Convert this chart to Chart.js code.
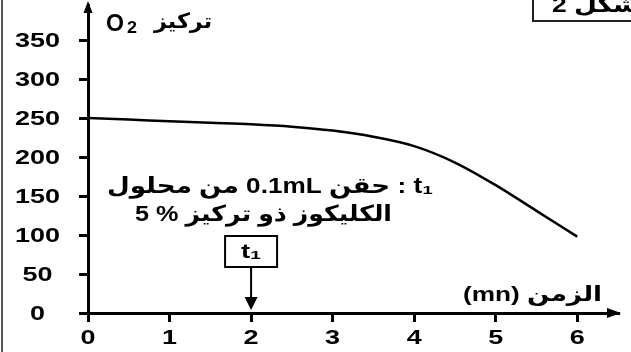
<!DOCTYPE html>
<html>
<head>
<meta charset="utf-8">
<script src="https://cdn.jsdelivr.net/npm/chart.js@4.4.1/dist/chart.umd.min.js"></script>
<style>
  html, body { margin: 0; padding: 0; background: #fff; }
  canvas { display: block; }
</style>
</head>
<body>
<canvas id="graph" width="631" height="352"></canvas>
<script>
// data
var timeMin = [0, 0.5, 1, 1.5, 2, 2.5, 3, 3.5, 4, 4.5, 5, 5.5, 6];
var o2Conc = [250, 248, 246, 244, 242, 239, 234, 226, 214, 193, 164, 131, 98];
var xTickLabels = [0, 1, 2, 3, 4, 5, 6];
var yTickLabels = [0, 50, 100, 150, 200, 250, 300, 350];
var injectTime = 2; // t1

var FONT = '"Liberation Sans", Arial, "DejaVu Sans", sans-serif';

// the original text is stretched horizontally, so draw with a x scale
function drawText(ctx, txt, x, y, size, opt) {
	opt = opt || {};
	ctx.save();
	ctx.font = 'bold ' + size + 'px ' + FONT;
	ctx.direction = opt.rtl ? 'rtl' : 'ltr';
	ctx.textAlign = 'left';
	ctx.textBaseline = 'middle';
	ctx.fillStyle = '#000';
	var w = ctx.measureText(txt).width;
	var sx = opt.width ? opt.width / w : (opt.sx || 1);
	var left = x;
	if (opt.align === 'center') left = x - w * sx / 2;
	ctx.translate(left, y);
	ctx.scale(sx, 1);
	ctx.fillText(txt, 0, 0);
	ctx.restore();
}

var decorPlugin = {
	id: 'decor',
	afterDraw: function (chart) {
		var ctx = chart.ctx;
		var xs = chart.scales.x, ys = chart.scales.y;
		var x0 = xs.getPixelForValue(0), y0 = ys.getPixelForValue(0);

		// tick labels
		xs.ticks.forEach(function (t) {
			drawText(ctx, String(t.value), xs.getPixelForValue(t.value), 338, 20, { sx: 1.35, align: 'center' });
		});
		ys.ticks.forEach(function (t) {
			drawText(ctx, String(t.value), 37.5, ys.getPixelForValue(t.value) + 1, 20, { sx: 1.35, align: 'center' });
		});

		// axis arrows
		ctx.save();
		ctx.fillStyle = '#000';
		ctx.beginPath();
		ctx.moveTo(x0, 1);
		ctx.lineTo(x0 - 4.5, 13);
		ctx.lineTo(x0 + 4.5, 13);
		ctx.closePath();
		ctx.fill();
		ctx.beginPath();
		ctx.moveTo(621, y0);
		ctx.lineTo(607, y0 - 5);
		ctx.lineTo(607, y0 + 5);
		ctx.closePath();
		ctx.fill();
		ctx.restore();

		// axis titles
		drawText(ctx, 'O', 106, 25, 23, { width: 18 });
		drawText(ctx, '2', 127, 28, 17, { width: 10 });
		drawText(ctx, 'تركيز', 154, 22, 21, { width: 58, rtl: true });
		drawText(ctx, '(mn) الزمن', 463, 295, 21, { width: 139 });

		// annotation text
		drawText(ctx, 't₁ : حقن 0.1mL من محلول', 107, 187, 22, { width: 326, rtl: true });
		drawText(ctx, 'الكليكوز ذو تركيز % 5', 135, 215, 22, { width: 257, rtl: true });

		// t1 box + arrow
		var tx = xs.getPixelForValue(injectTime);
		ctx.save();
		ctx.strokeStyle = '#000';
		ctx.lineWidth = 2;
		ctx.strokeRect(tx - 26, 236, 52, 31);
		ctx.beginPath();
		ctx.moveTo(tx, 267);
		ctx.lineTo(tx, 299);
		ctx.stroke();
		ctx.fillStyle = '#000';
		ctx.beginPath();
		ctx.moveTo(tx - 6.5, 297);
		ctx.lineTo(tx + 6.5, 297);
		ctx.lineTo(tx, 310);
		ctx.closePath();
		ctx.fill();
		ctx.restore();
		drawText(ctx, 't₁', tx, 252, 21, { sx: 1.3, align: 'center' });

		// frame bits
		ctx.save();
		ctx.strokeStyle = '#555';
		ctx.lineWidth = 2;
		ctx.beginPath();
		ctx.moveTo(2, 0);
		ctx.lineTo(2, 352);
		ctx.stroke();
		ctx.strokeStyle = '#222';
		ctx.strokeRect(533, -5, 110, 26);
		ctx.restore();
		drawText(ctx, 'الشكل 2', 552, 6, 22, { sx: 1.2, rtl: true });
	}
};

new Chart(document.getElementById('graph'), {
	type: 'line',
	data: {
		datasets: [{
			data: timeMin.map(function (t, i) { return { x: t, y: o2Conc[i] }; }),
			borderColor: '#000',
			borderWidth: 2.5,
			pointRadius: 0,
			fill: false,
			cubicInterpolationMode: 'monotone'
		}]
	},
	options: {
		responsive: false,
		animation: false,
		layout: { padding: { top: 5, right: 13, left: 0, bottom: 0 } },
		plugins: { legend: { display: false }, tooltip: { enabled: false } },
		scales: {
			x: {
				type: 'linear',
				min: 0,
				max: 6.5,
				afterBuildTicks: function (s) { s.ticks = xTickLabels.map(function (v) { return { value: v }; }); },
				afterFit: function (s) { s.height = 39; },
				ticks: { display: false },
				grid: { drawOnChartArea: false, color: '#000', lineWidth: 3, tickLength: 9 },
				border: { color: '#000', width: 3 }
			},
			y: {
				min: 0,
				max: 395,
				afterBuildTicks: function (s) { s.ticks = yTickLabels.map(function (v) { return { value: v }; }); },
				afterFit: function (s) { s.width = 88; },
				ticks: { display: false },
				grid: { drawOnChartArea: false, color: '#000', lineWidth: 3, tickLength: 9 },
				border: { color: '#000', width: 3 }
			}
		}
	},
	plugins: [decorPlugin]
});
</script>
</body>
</html>
